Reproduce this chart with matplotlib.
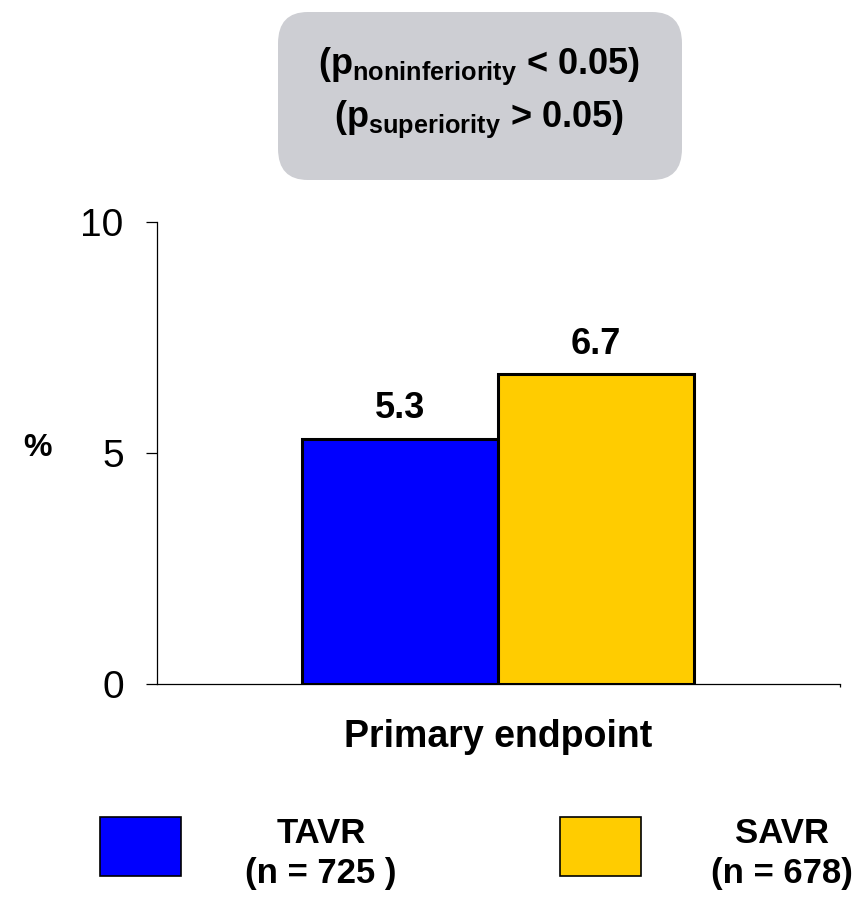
import matplotlib.pyplot as plt
from matplotlib.patches import Rectangle, FancyBboxPatch

plt.rcParams['font.family'] = ['Liberation Sans', 'DejaVu Sans']
plt.rcParams['mathtext.fontset'] = 'custom'
plt.rcParams['mathtext.bf'] = 'Liberation Sans:bold'
plt.rcParams['mathtext.rm'] = 'Liberation Sans:bold'

groups = ['TAVR', 'SAVR']
group_n = ['(n = 725 )', '(n = 678)']
values = [5.3, 6.7]
colors = ['#0000FF', '#FFCC00']
endpoint = 'Primary endpoint'
yticks = [0, 5, 10]
p_lines = [r'(p$_{\bf noninferiority}$ < 0.05)', r'(p$_{\bf superiority}$ > 0.05)']

fig = plt.figure(figsize=(8.52, 8.97), dpi=100)
ax = fig.add_axes([157 / 852, 1 - 684 / 897, (840 - 157) / 852, (684 - 222) / 897])

xpos = range(len(values))
bars = ax.bar(xpos, values, width=1.0, color=colors, edgecolor='black', linewidth=2.2)
for b, v in zip(bars, values):
    ax.text(b.get_x() + b.get_width() / 2, v + 0.45, f'{v:.1f}', ha='center', va='baseline',
            fontsize=26, fontweight='bold')

ax.set_xlim(-1.24, 2.245)
ax.set_ylim(0, 10)
ax.set_yticks(yticks)
ax.set_yticklabels([str(t) for t in yticks], fontsize=28)
ax.tick_params(axis='y', length=8, width=0.9, pad=16)
ax.set_xticks([2.245])
ax.set_xticklabels([''])
ax.tick_params(axis='x', length=2, width=0.9)
for s in ['top', 'right']:
    ax.spines[s].set_visible(False)
for s in ['left', 'bottom']:
    ax.spines[s].set_linewidth(0.9)

fig.text(38 / 852, 1 - 448 / 897, '%', ha='center', va='center', fontsize=23, fontweight='bold')
fig.text(498 / 852, 1 - 747 / 897, endpoint, ha='center', va='baseline', fontsize=27, fontweight='bold')

# p-value box
box = FancyBboxPatch((278 / 852, 1 - 180 / 897), (682 - 278) / 852, (180 - 12) / 897,
                     boxstyle='round,pad=0,rounding_size=0.035', transform=fig.transFigure,
                     facecolor='#CDCED3', edgecolor='none')
fig.add_artist(box)
fig.text(479 / 852, 1 - 74 / 897, p_lines[0], ha='center', va='baseline', fontsize=26, fontweight='bold')
fig.text(479 / 852, 1 - 127 / 897, p_lines[1], ha='center', va='baseline', fontsize=26, fontweight='bold')

# legend
sq_x = [100, 560]
txt_x = [321, 782]
for i in range(len(groups)):
    fig.add_artist(Rectangle((sq_x[i] / 852, 1 - 876 / 897), 81 / 852, 59 / 897,
                             transform=fig.transFigure, facecolor=colors[i],
                             edgecolor='black', linewidth=1.2))
    fig.text(txt_x[i] / 852, 1 - 843 / 897, groups[i], ha='center', va='baseline',
             fontsize=25, fontweight='bold')
    fig.text(txt_x[i] / 852, 1 - 883 / 897, group_n[i], ha='center', va='baseline',
             fontsize=25, fontweight='bold')

fig.savefig('out.png', dpi=100)
